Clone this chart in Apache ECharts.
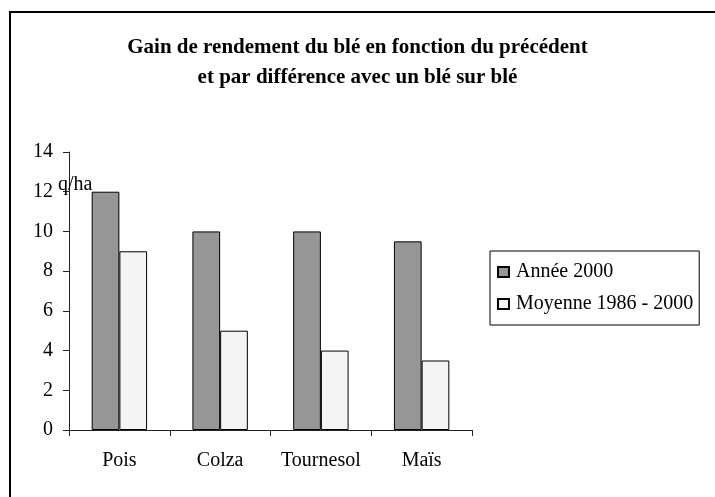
<!DOCTYPE html>
<html>
<head>
<meta charset="utf-8">
<script src="https://cdn.jsdelivr.net/npm/echarts@6/dist/echarts.min.js"></script>
<style>
  html, body { margin: 0; padding: 0; background: #fff; }
  #chart { width: 715px; height: 497px; }
</style>
</head>
<body>
<div id="chart"></div>
<script>
// donnees
const categories = ['Pois', 'Colza', 'Tournesol', 'Maïs'];
const annee2000 = [12, 10, 10, 9.5];
const moyenne = [9, 5, 4, 3.5];
const seriesNames = ['Année 2000', 'Moyenne 1986 - 2000'];

const serif = '"Liberation Serif", "Times New Roman", serif';

let chart = echarts.init(document.getElementById('chart'));

let option = {
    backgroundColor: '#fff',
    animation: false,
    title: {
        text: 'Gain de rendement du blé en fonction du précédent\net par différence avec un blé sur blé',
        left: 'center',
        top: 28,
        textStyle: {
            fontFamily: serif,
            fontWeight: 'bold',
            fontSize: 21,
            lineHeight: 30,
            color: '#000'
        }
    },
    legend: {
        orient: 'vertical',
        left: 490,
        top: 251,
        padding: [11, 6, 11, 7],
        itemGap: 12,
        itemWidth: 11,
        itemHeight: 10,
        icon: 'rect',
        borderColor: '#000',
        borderWidth: 1,
        textStyle: { fontFamily: serif, fontSize: 20, color: '#000', padding: [0, 0, 0, 2] },
        data: seriesNames
    },
    grid: { left: 69, top: 152, right: 243, bottom: 67 },
    xAxis: {
        type: 'category',
        data: categories,
        axisLine: { lineStyle: { color: '#222', width: 1 } },
        axisTick: { show: true, interval: 0, length: 6, lineStyle: { color: '#222' } },
        axisLabel: { interval: 0, hideOverlap: false, fontFamily: serif, fontSize: 20, color: '#000', margin: 21 }
    },
    yAxis: {
        type: 'value',
        min: 0,
        max: 14,
        interval: 2,
        splitLine: { show: false },
        axisLine: { show: true, lineStyle: { color: '#222', width: 1 } },
        axisTick: { show: true, length: 6, lineStyle: { color: '#222' } },
        axisLabel: { fontFamily: serif, fontSize: 20, color: '#000', margin: 16 }
    },
    graphic: [
        {
            type: 'rect',
            shape: { x: 10, y: 12, width: 800, height: 600 },
            style: { fill: null, stroke: '#000', lineWidth: 2 },
            silent: true
        },
        {
            type: 'text',
            left: 58,
            top: 175,
            z: 100,
            style: { text: 'q/ha', font: '20px ' + serif, fill: '#000' }
        }
    ],
    series: [
        {
            name: seriesNames[0],
            type: 'bar',
            data: annee2000,
            barGap: '0%',
            barCategoryGap: '45%',
            itemStyle: { color: '#969696', borderColor: '#000', borderWidth: 1 }
        },
        {
            name: seriesNames[1],
            type: 'bar',
            data: moyenne,
            itemStyle: { color: '#f4f4f4', borderColor: '#000', borderWidth: 1 }
        }
    ]
};

chart.setOption(option);
</script>
</body>
</html>
